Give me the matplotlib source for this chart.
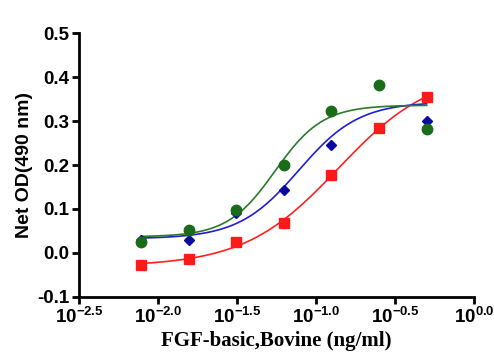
import numpy as np
import matplotlib
matplotlib.use('Agg')
import matplotlib.pyplot as plt

# concentrations (ng/ml), 2-fold dilution series
conc = [0.0078125, 0.015625, 0.03125, 0.0625, 0.125, 0.25, 0.5]

od_red = [-0.028, -0.013, 0.026, 0.067, 0.177, 0.285, 0.355]
od_blue = [0.029, 0.030, 0.090, 0.144, 0.245, 0.381, 0.300]
od_green = [0.024, 0.053, 0.097, 0.200, 0.322, 0.383, 0.281]

xtick_exps = [-2.5, -2.0, -1.5, -1.0, -0.5, 0.0]
ytick_vals = [-0.1, 0.0, 0.1, 0.2, 0.3, 0.4, 0.5]


def fit_4pl(x, y):
    # grid search over logEC50 and hill slope; bottom/top solved by linear least squares
    lx = np.log10(np.asarray(x))
    y = np.asarray(y)
    best = None
    for ec in np.linspace(-2.5, 0.5, 301):
        for h in np.linspace(0.3, 4.0, 186):
            s = 1.0 / (1.0 + 10 ** ((ec - lx) * h))
            A = np.column_stack([1 - s, s])
            coef, *_ = np.linalg.lstsq(A, y, rcond=None)
            err = np.sum((A @ coef - y) ** 2)
            if best is None or err < best[0]:
                best = (err, ec, h, coef)
    _, ec, h, (bottom, top) = best

    def f(xx):
        s = 1.0 / (1.0 + 10 ** ((ec - np.log10(xx)) * h))
        return bottom + (top - bottom) * s
    return f


plt.rcParams['font.family'] = 'Liberation Sans'
plt.rcParams['mathtext.fontset'] = 'custom'
plt.rcParams['mathtext.rm'] = 'Liberation Sans:bold'
plt.rcParams['mathtext.bf'] = 'Liberation Sans:bold'
plt.rcParams['mathtext.default'] = 'bf'

fig = plt.figure(figsize=(4.94, 3.56), dpi=100)
ax = fig.add_axes([0.16, 0.166, 0.80, 0.741])

xs = np.logspace(np.log10(conc[0]), np.log10(conc[-1]), 200)
series = [
    (od_red, 's', '#ff1a1a', '#ff2020', 7),
    (od_blue, 'D', '#0a0aa0', '#1f1fd0', 5),
    (od_green, 'o', '#1a6b1a', '#2a7a2a', 7.5),
]
for vals, m, mc, lc, ms in series:
    f = fit_4pl(conc, vals)
    ax.plot(xs, f(xs), color=lc, lw=1.2, zorder=2)
    ax.plot(conc, vals, m, color=mc, ms=ms, mec=mc, zorder=3)

ax.set_xscale('log')
ax.set_xlim(10 ** -2.5, 1.0)
ax.set_ylim(-0.1, 0.5)
ax.set_xticks([10 ** e for e in xtick_exps])
ax.set_xticklabels([r'$10^{%.1f}$' % e for e in xtick_exps])
ax.xaxis.set_minor_locator(matplotlib.ticker.NullLocator())
ax.set_yticks(ytick_vals)
ax.set_yticklabels(['%.1f' % v for v in ytick_vals], fontweight='bold')

for s in ['top', 'right']:
    ax.spines[s].set_visible(False)
for s in ['left', 'bottom']:
    ax.spines[s].set_linewidth(2)
ax.tick_params(width=2, length=5, labelsize=13.5, pad=2)

ax.set_ylabel('Net OD(490 nm)', fontsize=14, fontweight='bold', labelpad=3)
ax.set_xlabel('FGF-basic,Bovine (ng/ml)', fontsize=15, fontweight='bold',
              family='Liberation Serif', labelpad=3)

fig.savefig('out.png', dpi=100)
